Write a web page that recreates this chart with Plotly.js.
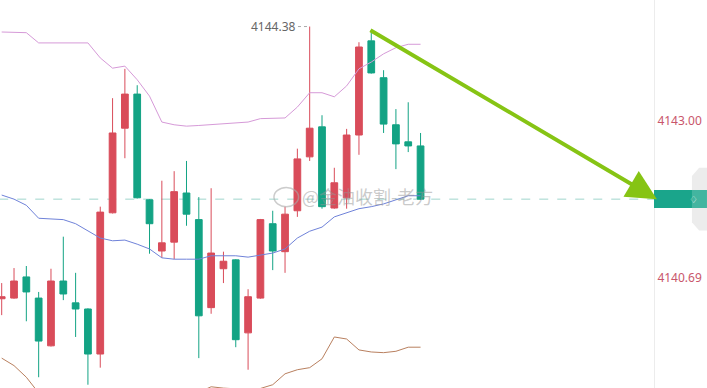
<!DOCTYPE html>
<html>
<head>
<meta charset="utf-8">
<script src="https://cdn.plot.ly/plotly-3.0.1.min.js"></script>
<style>html,body{margin:0;padding:0;background:#fff;}#chart{width:707px;height:388px;}</style>
</head>
<body>
<div id="chart"></div>
<script>
// candle index (bar number)
const idx = [0,1,2,3,4,5,6,7,8,9,10,11,12,13,14,15,16,17,18,19,20,21,22,23,24,25,26,27,28,29,30,31,32,33,34];
const opens  = [4140.39,4140.40,4140.71,4140.40,4139.70,4140.65,4140.33,4140.24,4139.58,4141.65,4142.89,4143.39,4141.84,4141.09,4141.22,4141.94,4141.55,4140.26,4140.83,4140.96,4139.89,4140.40,4141.49,4141.08,4141.68,4142.47,4142.91,4141.72,4141.87,4142.79,4144.17,4143.63,4142.94,4142.69,4142.63];
const highs  = [4140.62,4140.84,4140.87,4140.49,4140.83,4141.30,4140.77,4140.25,4141.74,4143.33,4143.76,4143.52,4141.85,4142.12,4142.26,4142.41,4141.88,4142.01,4141.08,4140.97,4140.53,4141.56,4141.68,4141.74,4142.59,4144.38,4143.08,4142.31,4142.88,4144.15,4144.33,4143.74,4143.17,4143.27,4142.82];
const lows   = [4140.15,4140.39,4140.06,4139.24,4139.69,4140.37,4139.83,4139.13,4139.38,4141.64,4142.45,4141.86,4141.05,4140.99,4140.97,4141.46,4139.52,4140.17,4140.62,4139.68,4139.35,4140.39,4140.81,4140.77,4141.59,4142.41,4141.71,4141.71,4141.71,4142.50,4143.69,4142.82,4142.29,4142.54,4141.84];
const closes = [4140.42,4140.65,4140.49,4139.77,4140.65,4140.46,4140.24,4139.58,4141.66,4142.82,4143.39,4141.87,4141.49,4141.21,4141.96,4141.63,4140.14,4141.06,4140.94,4139.79,4140.42,4141.55,4141.09,4141.63,4142.44,4142.89,4141.74,4142.09,4142.79,4144.08,4143.70,4142.95,4142.66,4142.63,4141.85];
// Bollinger bands
const bollUpper = [4144.30,4144.29,4144.29,4144.14,4144.14,4144.14,4144.15,4144.14,4143.92,4143.77,4143.80,4143.60,4143.36,4142.98,4142.94,4142.92,4142.93,4142.94,4142.95,4142.97,4142.98,4143.03,4143.04,4143.04,4143.20,4143.41,4143.41,4143.35,4143.51,4143.76,4143.86,4143.98,4144.07,4144.12,4144.12];
const bollMid   = [4141.91,4141.85,4141.76,4141.57,4141.56,4141.55,4141.49,4141.38,4141.28,4141.24,4141.25,4141.19,4141.12,4140.99,4140.97,4140.97,4140.97,4141.02,4141.02,4141.02,4141.00,4141.03,4141.06,4141.12,4141.28,4141.38,4141.44,4141.59,4141.65,4141.71,4141.74,4141.78,4141.84,4141.90,4141.90];
const bollLower = [4139.52,4139.41,4139.24,4139.01,4138.98,4138.95,4138.83,4138.63,4138.64,4138.70,4138.70,4138.79,4138.88,4138.99,4139.01,4139.02,4139.02,4139.10,4139.08,4139.07,4139.02,4139.08,4139.13,4139.29,4139.35,4139.38,4139.51,4139.83,4139.80,4139.64,4139.61,4139.60,4139.62,4139.68,4139.68];
// axis ticks
const tickValues = [4143.00, 4140.69];
const tickLabels = ['4143.00', '4140.69'];
const maxLabel = '4144.38';
const watermark = '@金油收割-老方';

const RED = '#d94c5a', GREEN = '#13a384';
const lastClose = closes[closes.length - 1];
const maxIdx = highs.indexOf(Math.max(...highs));

const traces = [
  {type:'scatter', mode:'lines', x:idx, y:bollUpper, line:{color:'#d69ad8', width:1}, hoverinfo:'skip'},
  {type:'scatter', mode:'lines', x:idx, y:bollMid, line:{color:'#6f82d9', width:1}, hoverinfo:'skip'},
  {type:'scatter', mode:'lines', x:idx, y:bollLower, line:{color:'#b9805f', width:1}, hoverinfo:'skip'},
  {type:'candlestick', x:idx, open:opens, high:highs, low:lows, close:closes,
   increasing:{line:{color:RED, width:1}, fillcolor:RED},
   decreasing:{line:{color:GREEN, width:1}, fillcolor:GREEN},
   whiskerwidth:0, hoverinfo:'skip'}
];

const layout = {
  width:707, height:388,
  margin:{l:0, r:53, t:0, b:0},
  paper_bgcolor:'#fff', plot_bgcolor:'#fff',
  showlegend:false, hovermode:false,
  boxgap:0.22,
  font:{family:'Noto Sans, Liberation Sans, sans-serif'},
  xaxis:{range:[-0.138, 52.95], visible:false, rangeslider:{visible:false}, fixedrange:true},
  yaxis:{range:[4139.082, 4144.769], side:'right', showgrid:false, zeroline:false,
         showline:true, linecolor:'#ececec', linewidth:1, mirror:false,
         tickmode:'array', tickvals:tickValues, ticktext:tickLabels, ticks:'',
         tickfont:{color:'#c9566b', size:12, family:'Noto Sans, sans-serif'}, fixedrange:true},
  shapes:[
    {type:'line', xref:'x', yref:'y', x0:-0.2, x1:53.2, y0:lastClose, y1:lastClose,
     line:{color:'#9fd5cc', width:1, dash:'dash'}, layer:'below'},
    {type:'line', xref:'x', yref:'y', x0:maxIdx-0.95, x1:maxIdx-0.1, y0:highs[maxIdx], y1:highs[maxIdx],
     line:{color:'#aaaaaa', width:1, dash:'dot'}},
    {type:'path', xref:'paper', yref:'y',
     path:`M 1.081 ${lastClose+0.46} L 1.069 ${lastClose+0.46} L 1.058 ${lastClose+0.34} L 1.058 ${lastClose-0.34} L 1.069 ${lastClose-0.46} L 1.081 ${lastClose-0.46} Z`,
     fillcolor:'#ececec', line:{width:0}},
    {type:'rect', xref:'paper', yref:'y', x0:1.0, x1:1.081, y0:lastClose-0.13, y1:lastClose+0.135,
     fillcolor:'#1aa58b', line:{width:0}},
    {type:'rect', xref:'paper', yref:'y', x0:1.058, x1:1.081, y0:lastClose-0.13, y1:lastClose+0.135,
     fillcolor:'rgba(255,255,255,0.18)', line:{width:0}},
    {type:'circle', xref:'x', yref:'y', x0:22.1, x1:24.1, y0:4141.74, y1:4142.02,
     line:{color:'rgba(170,170,170,0.6)', width:1.5}}
  ],
  annotations:[
    {x:maxIdx-0.95, y:highs[maxIdx], xref:'x', yref:'y', text:maxLabel, showarrow:false,
     xanchor:'right', yanchor:'middle', font:{color:'#666666', size:12}},
    {x:29.7, y:4141.90, xref:'x', yref:'y', text:watermark, showarrow:false,
     xanchor:'center', yanchor:'middle', font:{color:'rgba(150,150,150,0.5)', size:18, family:'Noto Sans CJK SC, sans-serif'}},
    {x:53.19, y:lastClose, xref:'x', yref:'y', ax:29.81, ay:4144.34, axref:'x', ayref:'y',
     text:'', showarrow:true, arrowhead:2, arrowsize:1.5, arrowwidth:4, arrowcolor:'#86c414', standoff:0},
    {x:1.07, y:lastClose, xref:'paper', yref:'y', text:'♢', showarrow:false,
     font:{color:'rgba(255,255,255,0.8)', size:10}}
  ]
};

Plotly.newPlot('chart', traces, layout, {staticPlot:true, displayModeBar:false});
</script>
</body>
</html>
